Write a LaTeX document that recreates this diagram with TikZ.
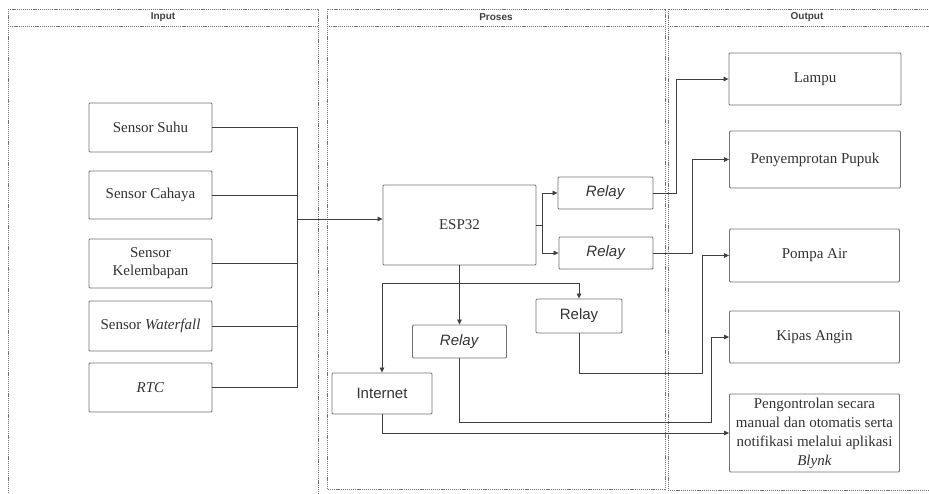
\documentclass[tikz,border=0pt]{standalone}
\usepackage{fontspec}
\setmainfont{Liberation Serif}
\setsansfont{Liberation Sans}
\usetikzlibrary{arrows.meta,positioning,calc}

\begin{document}
\begin{tikzpicture}[x=1pt, y=-1pt,
    box/.style={draw=black!55, line width=0.9pt, rounded corners=1pt, fill=white,
        text=black!80, font=\fontsize{15}{18}\selectfont, align=center, inner sep=1pt},
    relaybox/.style={box, font=\sffamily\fontsize{15}{18}\selectfont},
    lane/.style={draw=black!55, line width=0.7pt, dash pattern=on 1.2pt off 0.9pt},
    lanetitle/.style={font=\sffamily\bfseries\fontsize{10}{12}\selectfont, text=black!75},
    link/.style={draw=black!75, line width=0.7pt},
    >={Triangle[length=5pt,width=4.5pt]}]
    \useasboundingbox (0,0) rectangle (929,493);
    \clip (0,0) rectangle (929,493);

    % Lanes
    \draw[lane] (8,9) rectangle (318,505);
    \draw[lane] (8,26) -- (318,26);
    \node[lanetitle] (tinput) at (163,17.5) {Input};
    \draw[lane] (327,9) rectangle (665,489);
    \draw[lane] (327,26) -- (665,26);
    \node[lanetitle] (tproses) at (496,17.5) {Proses};
    \draw[lane] (668,9) rectangle (946,490);
    \draw[lane] (668,26) -- (946,26);
    \node[lanetitle] (toutput) at (807,17.5) {Output};

    % Input
    \node[box, minimum width=123, minimum height=49] (suhu) at (150.5,127.5) {Sensor Suhu};
    \node[box, minimum width=123, minimum height=48] (cahaya) at (150.5,195) {Sensor Cahaya};
    \node[box, minimum width=123, minimum height=49] (lembap) at (150.5,263.5) {Sensor\\Kelembapan};
    \node[box, minimum width=123, minimum height=50] (waterfall) at (150.5,326) {Sensor \textit{Waterfall}};
    \node[box, minimum width=123, minimum height=49] (rtc) at (150.5,387.5) {\textit{RTC}};

    % Proses
    \node[box, minimum width=153, minimum height=80] (esp) at (459.5,225) {ESP32};
    \node[relaybox, minimum width=95, minimum height=32] (relaya) at (605.5,193) {\textit{Relay}};
    \node[relaybox, minimum width=94, minimum height=32] (relayb) at (606,253) {\textit{Relay}};
    \node[relaybox, minimum width=86, minimum height=34] (relayc) at (579,316) {Relay};
    \node[relaybox, minimum width=94, minimum height=33] (relayd) at (459.5,341.5) {\textit{Relay}};
    \node[relaybox, minimum width=100, minimum height=41] (internet) at (382,393.5) {Internet};

    % Output
    \node[box, minimum width=172, minimum height=52] (lampu) at (815,79) {Lampu};
    \node[box, minimum width=171, minimum height=57] (pupuk) at (815,159.5) {Penyemprotan Pupuk};
    \node[box, minimum width=170, minimum height=53] (pompa) at (814.5,255.5) {Pompa Air};
    \node[box, minimum width=170, minimum height=52] (kipas) at (814.5,337) {Kipas Angin};
    \node[box, minimum width=170, minimum height=78, font=\fontsize{15}{19}\selectfont] (blynk) at (814.5,433)
        {Pengontrolan secara\\manual dan otomatis serta\\notifikasi melalui aplikasi\\\textit{Blynk}};

    % Sensors to ESP32
    \coordinate (bus) at (297,219);
    \draw[link] (suhu.east) -| (bus);
    \draw[link] (cahaya.east) -| (bus);
    \draw[link] (lembap.east) -| (bus);
    \draw[link] (waterfall.east) -| (bus);
    \draw[link] (rtc.east) -| (bus);
    \draw[link, ->] (bus) -- (bus -| esp.west);

    % ESP32 to relays
    \draw[link, ->] (esp.east) -- ++(6,0) |- (relaya.west);
    \draw[link, ->] (esp.east) -- ++(6,0) |- (relayb.west);
    \draw[link, ->] (esp.south) -- (relayd.north);
    \coordinate (fork) at (459.5,283);
    \draw[link, ->] (fork) -| (internet.north);
    \draw[link, ->] (fork) -| (relayc.north);

    % Relays to output
    \draw[link, ->] (relaya.east) -- ++(23,0) |- (lampu.west);
    \draw[link, ->] (relayb.east) -- ++(39,0) |- (pupuk.west);
    \draw[link, ->] (relayc.south) |- ++(123,40) |- (pompa.west);
    \draw[link, ->] (relayd.south) |- ++(252,64) |- (kipas.west);
    \draw[link, ->] (internet.south) |- (blynk.west);
\end{tikzpicture}
\end{document}
